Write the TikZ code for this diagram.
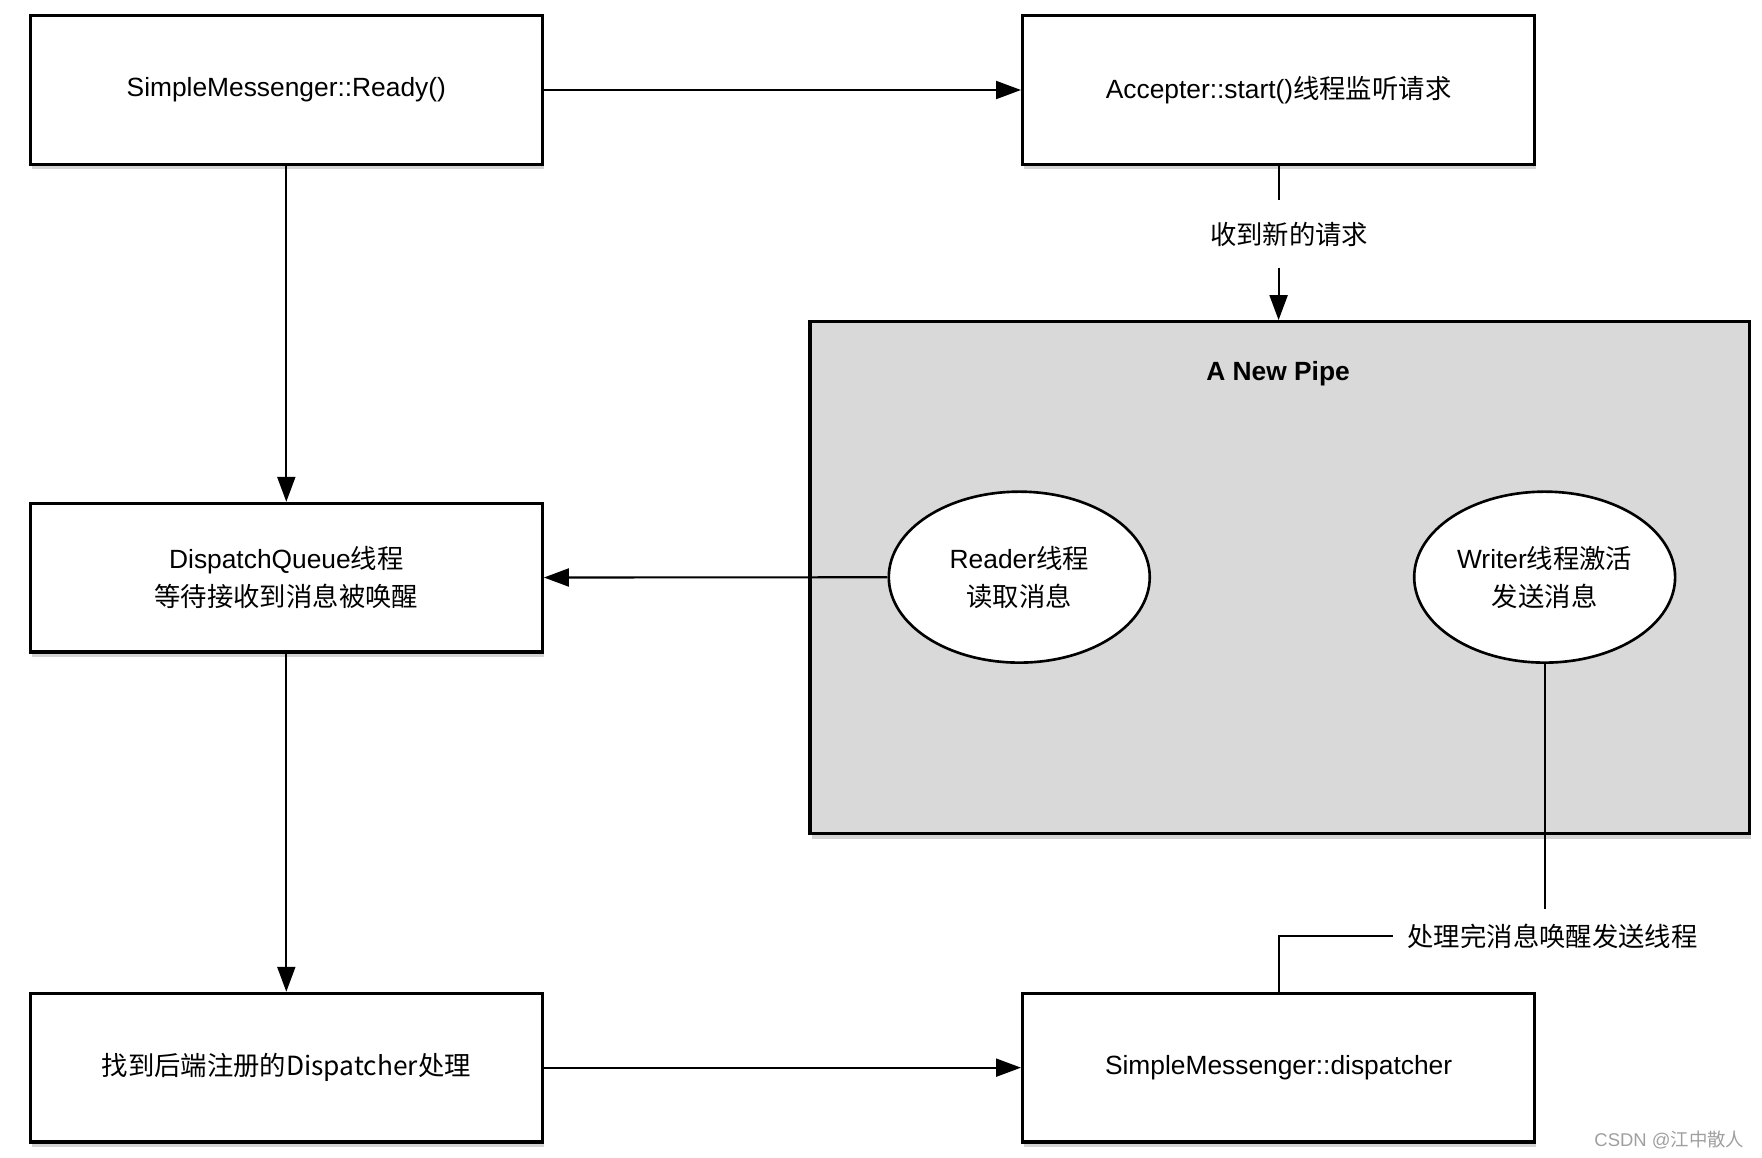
\documentclass[tikz,border=0pt]{standalone}
\usepackage{fontspec}
\setmainfont{Liberation Sans}
\newfontfamily\cjk{Noto Sans CJK SC}
\usepackage{xcolor}
\usepackage{tikz}
\usetikzlibrary{shapes.geometric, arrows.meta, shadows}
\definecolor{pipegray}{HTML}{D9D9D9}
\tikzstyle{arrow} = [line width=1.2pt,-{Triangle[length=0.5cm,width=0.36cm]}]
\tikzstyle{link} = [line width=1.2pt]

\begin{document}
\begin{tikzpicture}
[x=0.0225cm, y=-0.0225cm, font=\fontsize{15}{21.5}\selectfont,
procbox/.style={rectangle,draw=black,line width=1.9pt,fill=white,minimum width=10.24cm,minimum height=2.97cm,align=center,
  drop shadow={shadow xshift=0.03cm,shadow yshift=-0.1cm,opacity=0.35}},
pipebox/.style={rectangle,draw=black,line width=1.9pt,fill=pipegray,minimum width=18.79cm,minimum height=10.24cm,
  drop shadow={shadow xshift=0.03cm,shadow yshift=-0.1cm,opacity=0.35}},
threadnode/.style={ellipse,draw=black,line width=1.5pt,fill=white,minimum width=5.22cm,minimum height=3.42cm,align=center,inner sep=0pt},
notelabel/.style={inner sep=0.29cm},]
\useasboundingbox (0,0) rectangle (1566.2,1029.3);
% the pipe and its threads
\node[pipebox] (pipe) at (1137.5,513.5) {};
\node[font=\fontsize{15}{18}\selectfont\bfseries] (pipetitle) at (1136,332) {A New Pipe};
\node[threadnode] (reader) at (906,513) {Reader\cjk{线程}\\\cjk{读取消息}};
\node[threadnode] (writer) at (1373,513) {Writer\cjk{线程激活}\\\cjk{发送消息}};
% boxes
\node[procbox] (ready) at (254.5,80) {SimpleMessenger::Ready()};
\node[procbox] (accept) at (1136.5,80) {Accepter::start()\cjk{线程监听请求}};
\node[procbox] (queue) at (254.5,513.5) {DispatchQueue\cjk{线程}\\\cjk{等待接收到消息被唤醒}};
\node[procbox] (find) at (254.5,949) {\cjk{找到后端注册的}Dispatcher\cjk{处理}};
\node[procbox] (dispatch) at (1136.5,949) {SimpleMessenger::dispatcher};
% labels
\node[minimum height=1.33cm] (newreq) at (1146,208) {\cjk{收到新的请求}};
\node[notelabel] (wakeup) at (1380,832) {\cjk{处理完消息唤醒发送线程}};
\node[text=gray!75,font=\fontsize{10.5}{12}\selectfont,anchor=east] (mark) at (1556,1013) {CSDN @\cjk{江中散人}};
% connectors
\draw[arrow] (ready) -- (accept);
\draw[arrow] (ready) -- (queue);
\draw[arrow] (queue) -- (find);
\draw[arrow] (find) -- (dispatch);
\draw[arrow] (reader) -- (queue);
\draw[link] (accept.south) -- (accept.south |- newreq.north);
\draw[arrow] (accept.south |- newreq.south) -- (accept.south |- pipe.north);
\draw[link] (writer) -- (writer |- wakeup.north);
\draw[link] (wakeup.west) -| (dispatch);
\end{tikzpicture}
\end{document}
